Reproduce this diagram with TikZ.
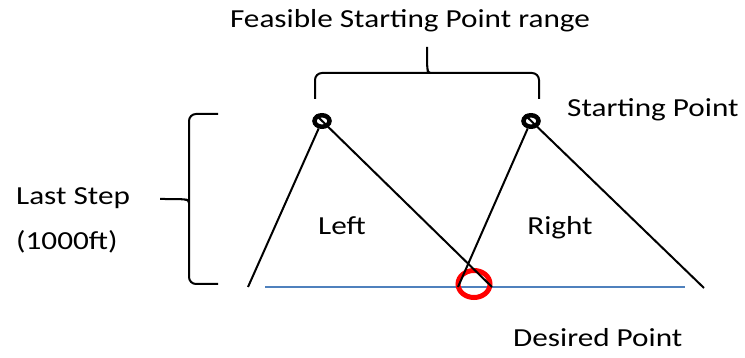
\documentclass[tikz,border=0pt]{standalone}
\usepackage{fontspec}
\setmainfont[FakeStretch=1.2]{Carlito}
\usepackage{tikz}
\usetikzlibrary{shapes.geometric,positioning}
\definecolor{baseblue}{RGB}{79,129,189}
\tikzset{
    % thin black legs
    leg/.style={line width=2pt,black},
    % the starting points
    startpt/.style={ellipse,draw=black,line width=4.5pt,inner sep=0pt,minimum width=15pt,minimum height=11.5pt},
    bracepath/.style={line width=2pt,black,rounded corners=7pt},
    lbl/.style={anchor=base west,inner sep=0pt,font=\fontsize{26}{30}\selectfont}
}
\begin{document}
\begin{tikzpicture}[x=1pt,y=-1pt]
    \useasboundingbox (0,0) rectangle (745,358);
    \path
    (248,287) coordinate (bl) (492,287) coordinate (bm1)
    (458,287) coordinate (bm2) (704,288) coordinate (br)
    (265,287) coordinate (g1) (685,287) coordinate (g2);
    % ground line and desired point
    \draw[line width=2pt,baseblue] (g1) -- (g2);
    \node[ellipse,draw=red,line width=5pt,minimum width=32pt,minimum height=27pt,inner sep=0pt] (dp) at (474,284) {};
    \node[startpt] (spl) at (322,121) {};
    \node[startpt] (spr) at (531,121) {};
    \draw[leg] (spl) -- (bl);
    \draw[leg] (spl.135) -- (bm1);
    \draw[leg] (spr) -- (bm2);
    \draw[leg] (spr.135) -- (br);
    % braces
    \draw[bracepath] (315,99) -- (315,73) -- (424,73) [sharp corners] .. controls (427,73) and (427,70) .. (427,47)
        .. controls (427,70) and (427,73) .. (430,73) [rounded corners=7pt] -- (539,73) -- (539,99);
    \draw[bracepath] (218,114) -- (189,114) -- (189,196) [sharp corners] .. controls (189,199) and (186,199) .. (160,199)
        .. controls (186,199) and (189,199) .. (189,202) [rounded corners=7pt] -- (189,284) -- (218,284);
    % labels
    \node[lbl,anchor=base] (fsr) at (410,28) {Feasible Starting Point range};
    \node[lbl] (spt) at (567,117) {Starting Point};
    \node[lbl] (ls) at (16,205) {Last Step};
    \node[lbl] (kft) at (16,250) {(1000ft)};
    \node[lbl,anchor=base] (lf) at (342,235) {Left};
    \node[lbl,anchor=base] (rt) at (560,235) {Right};
    \node[lbl] (dpt) at (513,347) {Desired Point};
\end{tikzpicture}
\end{document}
